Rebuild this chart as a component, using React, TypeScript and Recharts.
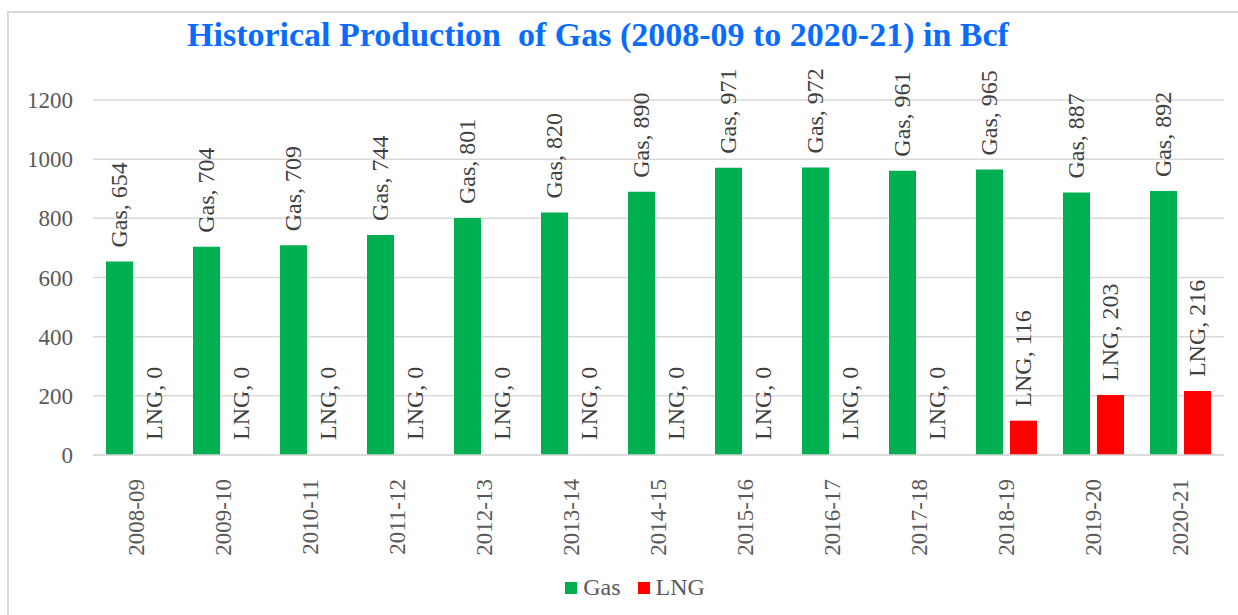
import { BarChart, Bar, XAxis, YAxis, CartesianGrid, Legend, LabelList, Rectangle } from "recharts";

const years = [
  "2008-09", "2009-10", "2010-11", "2011-12", "2012-13", "2013-14", "2014-15",
  "2015-16", "2016-17", "2017-18", "2018-19", "2019-20", "2020-21",
];
const gas = [654, 704, 709, 744, 801, 820, 890, 971, 972, 961, 965, 887, 892];
const lng = [0, 0, 0, 0, 0, 0, 0, 0, 0, 0, 116, 203, 216];
const yTicks = [0, 200, 400, 600, 800, 1000, 1200];

const data = years.map((year, i) => ({ year, Gas: gas[i], LNG: lng[i] }));

const FONT = '"Times New Roman", "Liberation Serif", serif';

// rotated "Series, value" label sitting above each bar
const makeLabel = (name: string) => (props: any) => {
  const { x, y, width, value } = props;
  const cx = x + width / 2;
  const cy = y - 14;
  return (
    <text
      x={cx}
      y={cy}
      transform={`rotate(-90 ${cx} ${cy})`}
      textAnchor="start"
      dominantBaseline="central"
      fill="#404040"
      fontSize={24}
      fontFamily={FONT}
    >
      {`${name}, ${value}`}
    </text>
  );
};

// zero values still need their label, so they get a 1px bar that is not drawn
const lngShape = (props: any) => (props.value === 0 || props.LNG === 0 ? <g /> : <Rectangle {...props} />);

const YearTick = (props: any) => {
  const { x, y, payload } = props;
  const ty = y + 16;
  return (
    <text
      x={x}
      y={ty}
      transform={`rotate(-90 ${x} ${ty})`}
      textAnchor="end"
      dominantBaseline="central"
      fill="#595959"
      fontSize={23}
      fontFamily={FONT}
    >
      {payload.value}
    </text>
  );
};

const LegendContent = (props: any) => (
  <div style={{ display: "flex", justifyContent: "center", alignItems: "center", gap: 17, paddingLeft: 32 }}>
    {(props.payload || []).map((p: any) => (
      <div key={p.value} style={{ display: "flex", alignItems: "center", gap: 6 }}>
        <span style={{ width: 12, height: 12, background: p.color, display: "inline-block" }} />
        <span style={{ color: "#595959", fontSize: 24, fontFamily: FONT }}>{p.value}</span>
      </div>
    ))}
  </div>
);

export default function App() {
  return (
    <div style={{ position: "absolute", left: 0, top: 0, width: 1238, height: 615, background: "#fff", fontFamily: FONT }}>
      <div
        style={{
          position: "absolute",
          left: 7,
          top: 11,
          width: 1240,
          height: 610,
          borderLeft: "2px solid #d9d9d9",
          borderTop: "2px solid #d9d9d9",
        }}
      />
      <div
        style={{
          position: "absolute",
          left: 0,
          top: 16,
          width: 1196,
          textAlign: "center",
          color: "#0A6CFF",
          fontWeight: "bold",
          fontSize: 34,
          fontFamily: FONT,
        }}
      >
        Historical Production&nbsp; of Gas (2008-09 to 2020-21) in Bcf
      </div>
      <BarChart
        width={1238}
        height={615}
        data={data}
        margin={{ top: 100, right: 14, left: 7, bottom: 33 }}
        barCategoryGap={13}
        barGap={7}
        style={{ position: "absolute", left: 0, top: 0 }}
      >
        <CartesianGrid vertical={false} stroke="#d9d9d9" strokeWidth={1.5} />
        <XAxis
          dataKey="year"
          tick={<YearTick />}
          tickLine={false}
          axisLine={{ stroke: "#d9d9d9", strokeWidth: 1.5 }}
          height={100}
          interval={0}
        />
        <YAxis
          domain={[0, 1200]}
          ticks={yTicks}
          width={86}
          tickLine={false}
          axisLine={false}
          tickSize={0}
          tickMargin={20}
          tick={{ fill: "#595959", fontSize: 23, fontFamily: FONT }}
        />
        <Legend
          verticalAlign="bottom"
          align="center"
          content={<LegendContent />}
          wrapperStyle={{ bottom: 14, left: 0, width: 1238 }}
        />
        <Bar dataKey="Gas" fill="#00B050" barSize={27} isAnimationActive={false}>
          <LabelList dataKey="Gas" content={makeLabel("Gas")} />
        </Bar>
        <Bar dataKey="LNG" fill="#FF0000" barSize={27} minPointSize={1} shape={lngShape} isAnimationActive={false}>
          <LabelList dataKey="LNG" content={makeLabel("LNG")} />
        </Bar>
      </BarChart>
    </div>
  );
}
